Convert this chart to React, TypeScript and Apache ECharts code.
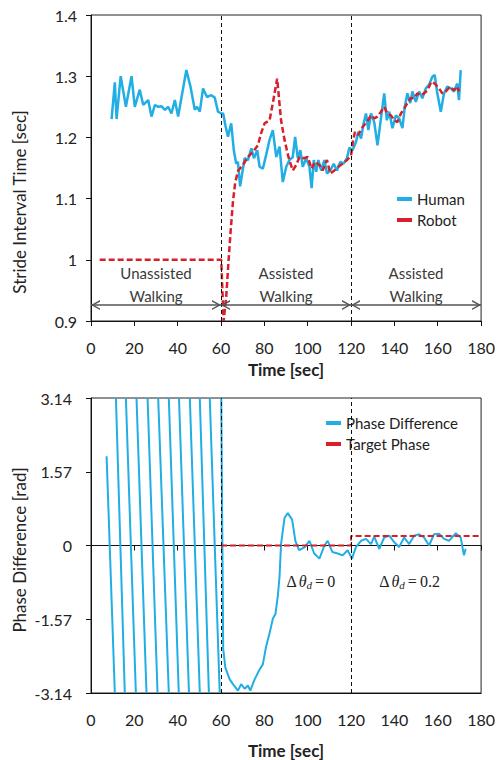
import React, { useEffect, useRef } from "react";
import * as echarts from "echarts";

// ---------- data ----------
const humanT = [9.5, 11.0, 11.8, 13.7, 16.1, 18.7, 20.2, 22.5, 24.1, 26.4, 27.9, 29.5, 31.0, 32.5, 34.1, 35.6, 37.1, 38.7, 40.2, 44.0, 45.9, 47.9, 48.9, 50.2, 51.7, 53.5, 55.5, 57.1, 58.6, 60.1, 61.0, 62.0, 63.2, 64.7, 65.9, 67.0, 67.8, 68.8, 70.9, 72.4, 74.0, 75.2, 76.7, 77.8, 79.3, 80.8, 82.4, 83.9, 85.5, 87.0, 88.5, 90.1, 91.6, 93.1, 94.2, 95.4, 96.6, 97.7, 99.3, 100.8, 101.8, 102.8, 103.9, 104.9, 106.2, 107.7, 108.9, 110.4, 112.0, 113.5, 115.0, 116.6, 118.1, 119.2, 120.7, 122.3, 123.3, 124.6, 125.8, 126.9, 128.0, 129.2, 130.7, 132.2, 133.8, 135.3, 136.5, 137.6, 139.1, 140.7, 142.2, 143.7, 144.8, 146.0, 147.3, 148.3, 149.9, 151.4, 152.9, 154.5, 156.0, 157.5, 158.6, 159.8, 161.4, 162.9, 164.4, 166.0, 167.5, 169.0, 169.8, 170.6];
const humanV = [1.23, 1.29, 1.23, 1.30, 1.25, 1.30, 1.25, 1.278, 1.253, 1.261, 1.234, 1.253, 1.25, 1.251, 1.245, 1.25, 1.239, 1.261, 1.234, 1.31, 1.283, 1.245, 1.25, 1.242, 1.28, 1.266, 1.269, 1.265, 1.242, 1.239, 1.239, 1.22, 1.201, 1.223, 1.179, 1.157, 1.16, 1.12, 1.166, 1.163, 1.182, 1.166, 1.179, 1.152, 1.149, 1.171, 1.196, 1.212, 1.168, 1.185, 1.127, 1.152, 1.163, 1.168, 1.201, 1.166, 1.179, 1.152, 1.166, 1.152, 1.117, 1.163, 1.144, 1.163, 1.146, 1.163, 1.141, 1.146, 1.157, 1.146, 1.16, 1.157, 1.166, 1.183, 1.179, 1.193, 1.209, 1.198, 1.223, 1.239, 1.212, 1.239, 1.225, 1.187, 1.231, 1.272, 1.228, 1.242, 1.215, 1.236, 1.231, 1.215, 1.25, 1.272, 1.256, 1.275, 1.258, 1.275, 1.264, 1.28, 1.286, 1.299, 1.302, 1.272, 1.242, 1.272, 1.283, 1.28, 1.275, 1.288, 1.261, 1.31];

const robotT = [4.0, 60.1, 61.2, 62.4, 63.5, 64.5, 65.5, 66.5, 67.8, 70.1, 72.4, 74.7, 77.0, 78.5, 80.1, 82.4, 83.9, 85.9, 87.7, 89.3, 91.1, 93.1, 94.7, 96.2, 98.2, 100.0, 101.8, 103.4, 105.4, 106.9, 108.9, 110.4, 112.3, 114.1, 116.1, 118.1, 120.0, 120.7, 121.8, 123.3, 125.3, 127.3, 129.2, 130.7, 132.2, 133.8, 135.3, 136.8, 138.4, 139.9, 141.4, 143.0, 144.5, 146.0, 147.5, 149.1, 150.6, 152.2, 153.7, 155.2, 157.1, 158.6, 160.6, 162.1, 163.7, 165.7, 167.5, 169.0, 169.8];
const robotV = [1.0, 1.0, 0.9, 0.94, 1.0, 1.05, 1.095, 1.125, 1.145, 1.155, 1.168, 1.176, 1.187, 1.207, 1.223, 1.228, 1.256, 1.296, 1.228, 1.196, 1.168, 1.146, 1.155, 1.168, 1.166, 1.168, 1.149, 1.16, 1.155, 1.146, 1.163, 1.141, 1.146, 1.152, 1.157, 1.163, 1.17, 1.19, 1.209, 1.204, 1.217, 1.225, 1.236, 1.231, 1.234, 1.242, 1.25, 1.239, 1.236, 1.228, 1.225, 1.239, 1.247, 1.256, 1.264, 1.264, 1.272, 1.269, 1.272, 1.277, 1.291, 1.288, 1.28, 1.272, 1.275, 1.283, 1.277, 1.283, 1.275];

// null = break in the wrapped phase trace
const phaseT = [7.2, 11.0, 11.0, 11.5, 15.6, 15.6, 16.1, 20.7, 20.7, 21.0, 25.6, 25.6, 26.1, 30.7, 30.7, 31.0, 35.9, 35.9, 35.9, 40.5, 40.5, 40.6, 45.2, 45.2, 45.6, 50.2, 50.2, 50.2, 54.4, 54.4, 54.8, 59.4, 59.4,
  60.1, 61.0, 62.0, 64.0, 65.5, 67.8, 69.3, 70.9, 72.4, 73.5, 75.5, 77.8, 79.3, 80.8, 82.4, 83.9, 85.1, 86.2, 87.0, 87.7, 89.3, 90.8, 92.8, 94.3, 96.0, 98.5, 100.8, 103.0, 105.4, 107.7, 109.2, 111.4, 113.8, 116.1, 118.4, 120.4, 122.3, 124.6, 126.9, 129.2, 130.7, 133.0, 135.3, 137.6, 139.9, 142.2, 144.5, 146.8, 149.1, 151.4, 153.7, 156.0, 158.3, 160.6, 162.9, 165.2, 168.3, 170.6, 172.1, 172.9];
const phaseV = [1.9, -3.14, null, 3.14, -3.14, null, 3.14, -3.14, null, 3.14, -3.14, null, 3.14, -3.14, null, 3.14, -3.14, null, 3.14, -3.14, null, 3.14, -3.14, null, 3.14, -3.14, null, 3.14, -3.14, null, 3.14, -3.14, null,
  3.14, -2.2, -2.6, -2.85, -2.95, -3.09, -2.95, -3.05, -2.98, -3.09, -2.85, -2.64, -2.53, -2.15, -1.87, -1.56, -1.46, -1.08, -0.66, 0.03, 0.59, 0.69, 0.55, 0.1, -0.1, -0.04, 0.1, -0.17, -0.28, 0.0, 0.1, -0.14, -0.17, -0.21, -0.1, -0.28, -0.03, 0.1, 0.14, 0.03, 0.19, -0.07, 0.17, 0.21, 0.07, -0.03, 0.17, 0.03, 0.21, 0.24, 0.17, 0.0, 0.24, 0.25, 0.14, 0.1, 0.26, 0.17, -0.21, -0.07];

const targetT = [60, 120, 120, 180];
const targetV = [0, 0, 0.2, 0.2];

const phaseBoundaries = [60, 120];
const segmentBounds = [[0, 60], [60, 120], [120, 180]];
const segmentLabels = ["Unassisted\nWalking", "Assisted\nWalking", "Assisted\nWalking"];
const segmentLabelY = 0.959;
const arrowY = 0.926;
const deltaLabels = [
  { t: 90.2, v: -0.76, value: "0" },
  { t: 133, v: -0.76, value: "0.2" },
];

// ---------- style ----------
const CYAN = "#20aee4";
const RED = "#d81f2a";
const FONT = "Lato, 'Noto Sans', sans-serif";
const SERIF = "'Liberation Serif', 'DejaVu Serif', serif";
const CHEVRON = "path://M5,-10 L5.05,-10 L4.95,-9.95 Z M0,10 L5,0 L10,10 L8.4,10 L5,3.2 L1.6,10 Z";

export default function App() {
  const ref = useRef<HTMLDivElement>(null);

  useEffect(() => {
    if (!ref.current) return;
    const chart = echarts.init(ref.current, null, { renderer: "svg" });

    const humanData = humanT.map((t, i) => [t, humanV[i]]);
    const robotData = robotT.map((t, i) => [t, robotV[i]]);
    const phaseData = phaseT.map((t, i) => (phaseV[i] === null ? [t, "-"] : [t, phaseV[i]]));
    const targetData = targetT.map((t, i) => [t, targetV[i]]);

    const tickLabel = { fontFamily: FONT, fontSize: 16, color: "#222" };
    const axisLineStyle = { color: "#111", width: 1 };

    const vLines = {
      silent: true,
      symbol: "none",
      label: { show: false },
      lineStyle: { color: "#111", type: [4, 3], width: 1 },
      data: phaseBoundaries.map((x) => ({ xAxis: x })),
    };

    const legendBase = {
      orient: "vertical", icon: "rect", itemWidth: 15, itemHeight: 4, itemGap: 3,
      textStyle: { fontFamily: FONT, fontSize: 15, color: "#222", lineHeight: 18 },
    };

    const option: any = {
      animation: false,
      backgroundColor: "#fff",
      grid: [
        { left: 91, top: 15, width: 391, height: 306, show: true, borderColor: "#222", borderWidth: 1, backgroundColor: "transparent" },
        { left: 91, top: 398, width: 391, height: 301, show: true, borderColor: "#222", borderWidth: 1, backgroundColor: "transparent" },
      ],
      xAxis: [
        {
          gridIndex: 0, type: "value", min: 0, max: 180, interval: 20, position: "bottom",
          axisLine: { show: true, onZero: false, lineStyle: axisLineStyle },
          axisTick: { show: true, inside: false, length: 5, lineStyle: axisLineStyle },
          axisLabel: { ...tickLabel, margin: 18 },
          splitLine: { show: false },
          name: "Time [sec]", nameLocation: "middle", nameGap: 40,
          nameTextStyle: { fontFamily: FONT, fontSize: 17, fontWeight: "bold", color: "#222" },
        },
        {
          gridIndex: 1, type: "value", min: 0, max: 180, interval: 20, position: "bottom",
          axisLine: { show: true, onZero: false, lineStyle: axisLineStyle },
          axisTick: { show: false },
          axisLabel: { ...tickLabel, margin: 18 },
          splitLine: { show: false },
          name: "Time [sec]", nameLocation: "middle", nameGap: 49,
          nameTextStyle: { fontFamily: FONT, fontSize: 17, fontWeight: "bold", color: "#222" },
        },
        {
          gridIndex: 1, type: "value", min: 0, max: 180, interval: 20, position: "bottom",
          axisLine: { show: true, onZero: true, onZeroAxisIndex: 1, lineStyle: axisLineStyle },
          axisTick: { show: true, inside: false, length: 5, lineStyle: axisLineStyle },
          axisLabel: { show: false },
          splitLine: { show: false },
        },
      ],
      yAxis: [
        {
          gridIndex: 0, type: "value", min: 0.9, max: 1.4, interval: 0.1,
          axisLine: { show: true, onZero: false, lineStyle: axisLineStyle },
          axisTick: { show: true, inside: false, length: 5, lineStyle: axisLineStyle },
          axisLabel: { ...tickLabel, margin: 14, formatter: (v: number) => String(+v.toFixed(1)) },
          splitLine: { show: false },
        },
        {
          gridIndex: 1, type: "value", min: -3.14, max: 3.14, interval: 1.57,
          axisLine: { show: true, onZero: false, lineStyle: axisLineStyle },
          axisTick: { show: true, inside: false, length: 5, lineStyle: axisLineStyle },
          axisLabel: { ...tickLabel, margin: 19, formatter: (v: number) => (Math.abs(v) < 1e-6 ? "0" : v.toFixed(2)) },
          splitLine: { show: false },
        },
      ],
      legend: [
        { ...legendBase, left: 392, top: 185, data: ["Human", "Robot"] },
        { ...legendBase, left: 321, top: 409, data: ["Phase Difference", "Target Phase"] },
      ],
      graphic: [
        {
          type: "text", x: 19, y: 202, rotation: Math.PI / 2,
          style: { text: "Stride Interval Time [sec]", fontFamily: FONT, fontSize: 17, fill: "#222", align: "center", verticalAlign: "middle" },
        },
        {
          type: "text", x: 19, y: 550, rotation: Math.PI / 2,
          style: { text: "Phase Difference [rad]", fontFamily: FONT, fontSize: 17, fill: "#222", align: "center", verticalAlign: "middle" },
        },
      ],
      series: [
        {
          name: "Human", type: "line", xAxisIndex: 0, yAxisIndex: 0, data: humanData,
          showSymbol: false, symbol: "none", lineStyle: { color: CYAN, width: 2.5 }, itemStyle: { color: CYAN }, z: 3,
          markLine: vLines,
          markPoint: {
            silent: true, symbol: "rect", symbolSize: 0,
            label: {
              show: true, position: "inside", formatter: (p: any) => p.name,
              fontFamily: FONT, fontSize: 15, color: "#3a3a3a", lineHeight: 23, align: "center",
            },
            data: segmentBounds.map(([a, b], i) => ({ name: segmentLabels[i], coord: [(a + b) / 2, segmentLabelY] })),
          },
        },
        {
          name: "Robot", type: "line", xAxisIndex: 0, yAxisIndex: 0, data: robotData,
          showSymbol: false, symbol: "none", lineStyle: { color: RED, width: 2.5, type: [6, 3] }, itemStyle: { color: RED }, z: 4,
          markLine: {
            silent: true, symbol: [CHEVRON, CHEVRON], symbolSize: [10, 18],
            label: { show: false },
            lineStyle: { color: "#555", width: 1.5, type: "solid" },
            data: segmentBounds.map(([a, b]) => [{ coord: [a, arrowY] }, { coord: [b, arrowY] }]),
          },
        },
        {
          name: "Phase Difference", type: "line", xAxisIndex: 1, yAxisIndex: 1, data: phaseData,
          showSymbol: false, symbol: "none", connectNulls: false, lineStyle: { color: CYAN, width: 2 }, itemStyle: { color: CYAN }, z: 3,
          markLine: vLines,
          markPoint: {
            silent: true, symbol: "rect", symbolSize: 0,
            label: {
              show: true, position: "right", distance: 0,
              formatter: (p: any) => `{n|Δ}{i|θ}{s|d}{e|=}{n|${p.name}}`,
              rich: {
                n: { fontFamily: SERIF, fontSize: 16, color: "#222", padding: [0, 2, 0, 0] },
                e: { fontFamily: SERIF, fontSize: 16, color: "#222", padding: [0, 3, 0, 2] },
                i: { fontFamily: SERIF, fontSize: 16, fontStyle: "italic", color: "#222" },
                s: { fontFamily: SERIF, fontSize: 11, fontStyle: "italic", color: "#222", padding: [8, 1, 0, 0] },
              },
            },
            data: deltaLabels.map((d) => ({ name: d.value, coord: [d.t, d.v] })),
          },
        },
        {
          name: "Target Phase", type: "line", xAxisIndex: 1, yAxisIndex: 1, data: targetData,
          showSymbol: false, symbol: "none", lineStyle: { color: RED, width: 2, type: [6, 3] }, itemStyle: { color: RED }, z: 4,
        },
      ],
    };

    chart.setOption(option);
    return () => chart.dispose();
  }, []);

  return <div ref={ref} style={{ position: "fixed", left: 0, top: 0, width: 498, height: 760 }} />;
}
